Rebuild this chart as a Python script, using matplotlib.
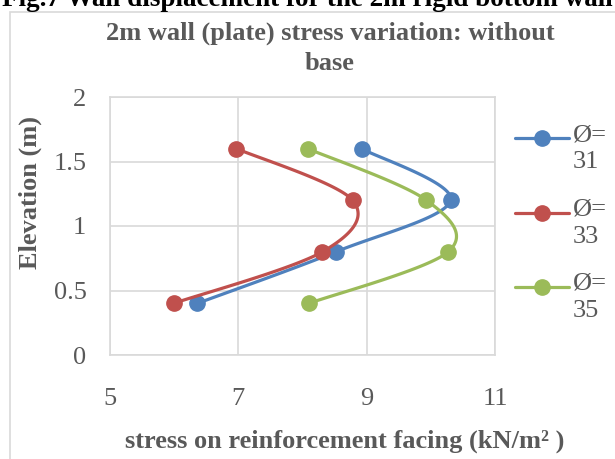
import numpy as np
import matplotlib
matplotlib.use("Agg")
import matplotlib.pyplot as plt
from matplotlib.patches import Rectangle
from matplotlib.lines import Line2D

# data
elevation = [1.6, 1.2, 0.8, 0.4]
stress_31 = [8.92, 10.31, 8.52, 6.36]
stress_33 = [6.97, 8.78, 8.31, 5.99]
stress_35 = [8.08, 9.93, 10.27, 8.10]
labels = ["Ø=\n31", "Ø=\n33", "Ø=\n35"]
colors = ["#4f81bd", "#c0504d", "#9bbb59"]

W, H = 615, 459


def smooth(xs, ys, n=40):
    # excel style smoothed line (catmull-rom through the points)
    pts = np.column_stack([xs, ys]).astype(float)
    ext = np.vstack([pts[0], pts, pts[-1]])
    out = []
    for i in range(1, len(ext) - 2):
        p0, p1, p2, p3 = ext[i - 1], ext[i], ext[i + 1], ext[i + 2]
        c1 = p1 + (p2 - p0) / 6
        c2 = p2 - (p3 - p1) / 6
        t = np.linspace(0, 1, n)[:, None]
        seg = (1 - t) ** 3 * p1 + 3 * (1 - t) ** 2 * t * c1 + 3 * (1 - t) * t ** 2 * c2 + t ** 3 * p2
        out.append(seg)
    out = np.vstack(out)
    return out[:, 0], out[:, 1]


def fx(px):
    return px / W


def fy(py):
    return 1 - py / H


plt.rcParams['font.family'] = ['Liberation Serif', 'DejaVu Serif']
grey = "#595959"
fs = 19

fig = plt.figure(figsize=(6.15, 4.59), dpi=100)
ax = fig.add_axes([fx(110), fy(355), 385 / W, 258 / H])

# chart frame and the cut-off caption above it
fig.add_artist(Rectangle((fx(9.5), -0.1), 1.2, fy(12) + 0.1, transform=fig.transFigure,
                         fill=False, edgecolor="#d9d9d9", lw=1.2))
fig.text(fx(307), fy(6), "Fig.7 Wall displacement for the 2m rigid bottom wall",
         ha="center", va="baseline", fontsize=19.5, fontweight="bold", color="black")

for xs, c in zip([stress_31, stress_33, stress_35], colors):
    sx, sy = smooth(xs, elevation)
    ax.plot(sx, sy, color=c, lw=2.3, solid_capstyle="round")
    ax.plot(xs, elevation, "o", color=c, ms=11)

ax.set_xlim(5, 11)
ax.set_ylim(0, 2)
ax.set_xticks([5, 7, 9, 11])
ax.set_yticks([0, 0.5, 1, 1.5, 2])
ax.set_yticklabels(["0", "0.5", "1", "1.5", "2"])
ax.grid(True, color="#d9d9d9", lw=1.2)
ax.set_axisbelow(True)
for s in ax.spines.values():
    s.set_color("#d9d9d9")
    s.set_linewidth(1.2)
ax.tick_params(length=0, labelsize=fs, labelcolor=grey)
ax.tick_params(axis="x", pad=24)
ax.tick_params(axis="y", pad=17)

fig.text(fx(330), fy(33), "2m wall (plate) stress variation: without", ha="center", va="center",
         fontsize=fs, fontweight="bold", color=grey)
fig.text(fx(330), fy(64), "base", ha="center", va="center",
         fontsize=fs, fontweight="bold", color=grey)
fig.text(fx(345), fy(441), "stress on reinforcement facing (kN/m² )", ha="center", va="center",
         fontsize=fs, fontweight="bold", color=grey)
fig.text(fx(30), fy(192), "Elevation (m)", ha="center", va="center", rotation=90,
         fontsize=fs, fontweight="bold", color=grey)

# legend: handle beside the first line of each two-line label
leg_y = [138, 213, 287]
for lab, c, y in zip(labels, colors, leg_y):
    fig.add_artist(Line2D([fx(515), fx(569)], [fy(y), fy(y)], transform=fig.transFigure,
                          color=c, lw=2.3, solid_capstyle="round"))
    fig.add_artist(Line2D([fx(542)], [fy(y)], transform=fig.transFigure,
                          color=c, marker="o", ms=11))
    fig.text(fx(573), fy(y - 14), lab, ha="left", va="top", fontsize=fs, color=grey,
             linespacing=1.3)

fig.savefig("out.png", dpi=100)
